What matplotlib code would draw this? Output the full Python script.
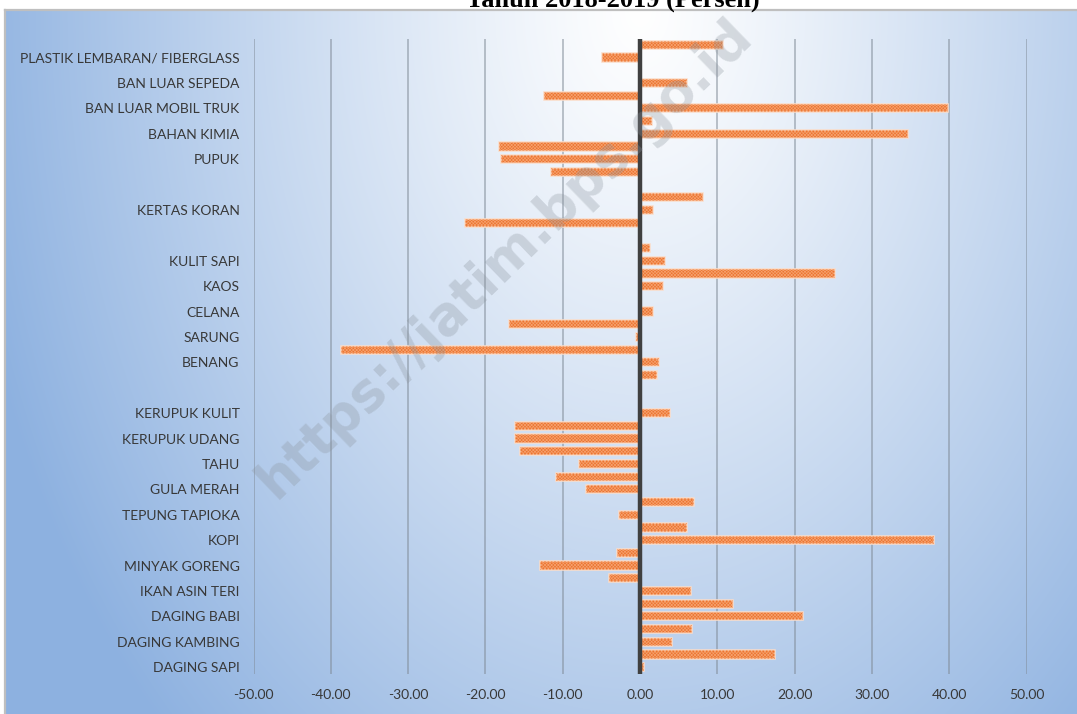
import numpy as np
from matplotlib import pyplot as plt

#dati: dal basso verso l'alto come nel foglio excel
produk = ["DAGING SAPI", "", "DAGING KAMBING", "", "DAGING BABI", "",
          "IKAN ASIN TERI", "", "MINYAK GORENG", "", "KOPI", "",
          "TEPUNG TAPIOKA", "", "GULA MERAH", "", "TAHU", "",
          "KERUPUK UDANG", "", "KERUPUK KULIT", "", "", "",
          "BENANG", "", "SARUNG", "", "CELANA", "", "KAOS", "",
          "KULIT SAPI", "", "", "", "KERTAS KORAN", "", "", "",
          "PUPUK", "", "BAHAN KIMIA", "", "BAN LUAR MOBIL TRUK", "",
          "BAN LUAR SEPEDA", "", "PLASTIK LEMBARAN/ FIBERGLASS", ""]

perubahan = [0.5, 17.5, 4.2, 6.7, 21.1, 12.0,
             6.6, -4.0, -13.0, -3.0, 38.0, 6.1,
             -2.7, 7.0, -7.0, -10.9, -7.9, -15.5,
             -16.2, -16.2, 3.9, np.nan, np.nan, 2.2,
             2.5, -38.7, -0.5, -16.9, 1.7, np.nan, 3.0, 25.2,
             3.2, 1.3, np.nan, -22.7, 1.7, 8.1, np.nan, -11.5,
             -18.0, -18.2, 34.7, 1.5, 39.9, -12.4,
             6.1, np.nan, -4.9, 10.75]

tick_x = [-50, -40, -30, -20, -10, 0, 10, 20, 30, 40, 50]

judul = "Tahun 2018-2019 (Persen)"
watermark = "https://jatim.bps.go.id"

W, H = 1077, 714
fig = plt.figure(figsize=(W/100, H/100), dpi=100)

#sfondo sfumato bianco -> blu
bx0, btop = 5, 10
ax_bg = fig.add_axes([bx0/W, 0, 1 - bx0/W, 1 - btop/H], zorder=0)
gw, gh = W - bx0, H - btop
xx, yy = np.meshgrid(np.arange(gw), np.arange(gh))
t = np.sqrt(((xx - 635)/690.0)**2 + ((yy - 0)/1000.0)**2)
t = np.clip(t, 0, 1)**1.15
blu = np.array([0x8D, 0xB1, 0xE0])/255.0
img = (1 - t)[..., None]*np.ones(3) + t[..., None]*blu
ax_bg.imshow(img, aspect='auto', extent=(0, gw, gh, 0))
ax_bg.set_xticks([])
ax_bg.set_yticks([])
for s in ['right', 'bottom']:
    ax_bg.spines[s].set_visible(False)
for s in ['left', 'top']:
    ax_bg.spines[s].set_color('#BFBFBF')
    ax_bg.spines[s].set_linewidth(1.6)

#grafico a barre
ax = fig.add_axes([253.5/W, 1 - 673.5/H, (1026.5 - 253.5)/W, (673.5 - 38.5)/H], zorder=2)
ax.patch.set_alpha(0)

y = np.arange(len(produk))
v = np.array(perubahan)
ok = ~np.isnan(v)

plt.rcParams['hatch.linewidth'] = 0.5
ax.barh(y[ok], v[ok], height=0.64, color='#EC7430', edgecolor='#FBDCC8', linewidth=1.1, zorder=3)
ax.barh(y[ok], v[ok], height=0.64, fill=False, hatch='x'*10, edgecolor='#F5A06C', linewidth=0, zorder=4)

ax.axvline(0, color='#404040', linewidth=3.2, zorder=5)

ax.set_xlim(-50, 50)
ax.set_ylim(-0.5, len(produk) - 0.5)
ax.set_xticks(tick_x)
ax.set_xticklabels(["{0:.2f}".format(k) for k in tick_x])
ax.set_yticks(y)
ax.set_yticklabels(produk)
ax.tick_params(axis='both', length=0, labelsize=10, labelcolor='#383838')
ax.tick_params(axis='y', pad=10)
ax.tick_params(axis='x', pad=11)
for lab in ax.get_xticklabels() + ax.get_yticklabels():
    lab.set_family('Lato')

ax.grid(axis='x', color='#7F8A96', alpha=0.55, linewidth=1.3, zorder=1)
ax.set_axisbelow(True)
for s in ax.spines.values():
    s.set_visible(False)

#titolo tagliato in alto e watermark
fig.text(613/W, 1 - 7/H, judul, ha='center', va='baseline', fontsize=19,
         fontweight='bold', family='Liberation Serif', color='black')
fig.text(505/W, 1 - 258/H, watermark, ha='center', va='center', rotation=44,
         fontsize=38, fontweight='bold', color='#8A939C', alpha=0.3, zorder=6)

plt.savefig('out.png', dpi=100)
